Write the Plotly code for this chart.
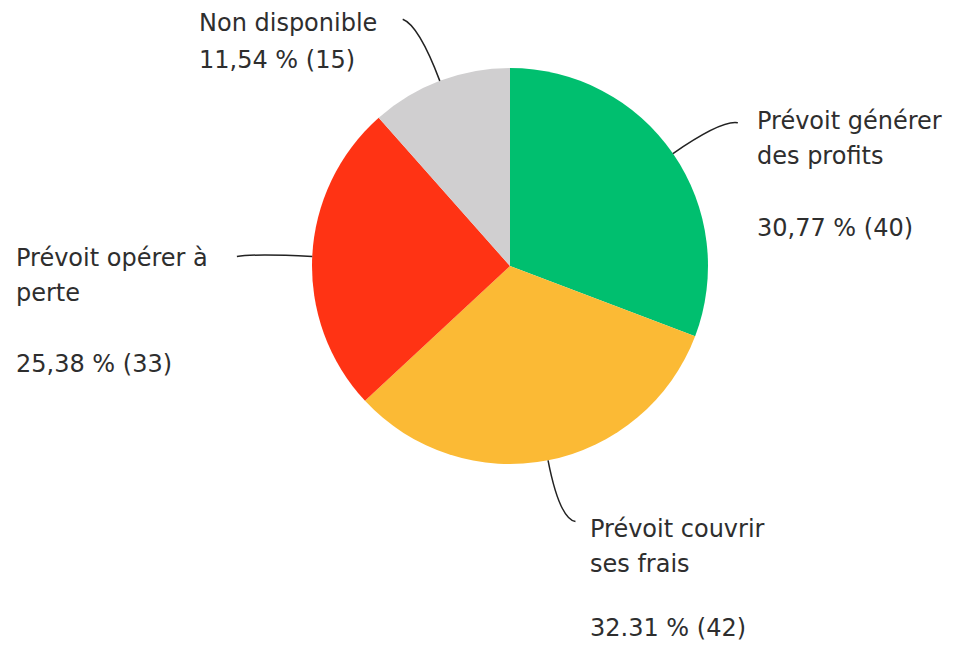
import math
import plotly.graph_objects as go

labels = ["Prévoit générer des profits", "Prévoit couvrir ses frais", "Prévoit opérer à perte", "Non disponible"]
values = [40, 42, 33, 15]
pct_text = ["30,77 % (40)", "32.31 % (42)", "25,38 % (33)", "11,54 % (15)"]
label_lines = [["Prévoit générer", "des profits"], ["Prévoit couvrir", "ses frais"], ["Prévoit opérer à", "perte"], ["Non disponible"]]
colors = ["#00BF6F", "#FBBA35", "#FF3314", "#D0CFD0"]

W, H = 961, 648
OFF = 8  # page body margin
cx, cy, R = 510, 266, 198

def px(x):
    return (x - OFF) / W

def py(y):
    return 1 - (y - OFF) / H

fig = go.Figure(go.Pie(
    labels=labels, values=values, sort=False, direction="clockwise", rotation=0,
    marker=dict(colors=colors, line=dict(width=0)), textinfo="none",
    hoverinfo="label+value+percent",
    domain=dict(x=[px(cx - R), px(cx + R)], y=[py(cy + R), py(cy - R)]),
))

# label blocks: (left x, first line y, pct line y, side)
label_pos = [(755, 121, 228, 1), (588, 529, 628, 1), (14, 258, 364, -1), (197, 23, 60, -1)]

total = sum(values)
cum = 0
shapes = []
annotations = []
font = dict(family="DejaVu Sans", size=24, color="#2e2e2e")
for i, v in enumerate(values):
    mid = (cum + v / 2) / total * 2 * math.pi
    cum += v
    sx, sy = cx + R * math.sin(mid), cy - R * math.cos(mid)
    kx, ky = cx + 1.3 * R * math.sin(mid), cy - 1.3 * R * math.cos(mid)
    side = label_pos[i][3]
    ex, ey = kx + 16 * side, ky + (3 if i != 3 else -6)
    path = f"M {px(sx)},{py(sy)} Q {px(kx)},{py(ky)} {px(ex)},{py(ey)}"
    shapes.append(dict(type="path", path=path, xref="paper", yref="paper",
                       line=dict(color="#222222", width=1.5)))
    lx, ly, pyy, _ = label_pos[i]
    for j, line in enumerate(label_lines[i]):
        annotations.append(dict(text=line, x=px(lx), y=py(ly + 35 * j), xref="paper", yref="paper",
                                xanchor="left", yanchor="middle", showarrow=False, font=font))
    annotations.append(dict(text=pct_text[i], x=px(lx), y=py(pyy), xref="paper", yref="paper",
                            xanchor="left", yanchor="middle", showarrow=False, font=font))

fig.update_layout(width=W, height=H, margin=dict(l=0, r=0, t=0, b=0),
                  paper_bgcolor="white", plot_bgcolor="white", showlegend=False,
                  shapes=shapes, annotations=annotations)
fig.write_html("out.html")
